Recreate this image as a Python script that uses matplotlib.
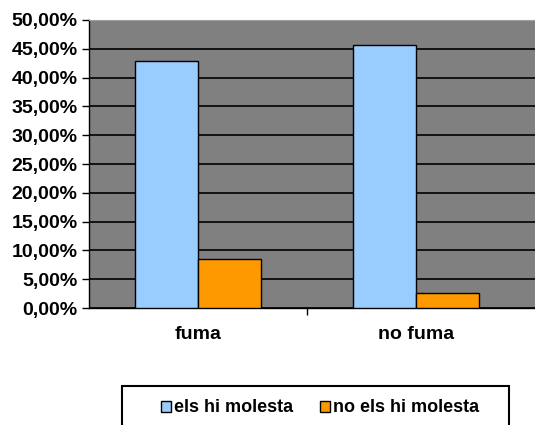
import matplotlib.pyplot as plt
import numpy as np
from matplotlib.ticker import FuncFormatter
from matplotlib.patches import Rectangle

# Datos
categorias = ['fuma', 'no fuma']
molesta = [42.8, 45.6]
no_molesta = [8.6, 2.7]
series = ['els hi molesta', 'no els hi molesta']

plt.rcParams['font.family'] = ['Liberation Sans', 'DejaVu Sans']
plt.rcParams['font.weight'] = 'bold'

fig = plt.figure(figsize=(5.35, 4.25), dpi=100)
ax = fig.add_axes([0.166, 0.275, 0.834, 0.678])
ax.set_facecolor('#808080')

x = np.arange(len(categorias))
w = 0.29
ax.bar(x - w / 2, molesta, w, color='#99CCFF', edgecolor='black', linewidth=1.0, label=series[0], zorder=3)
ax.bar(x + w / 2, no_molesta, w, color='#FF9900', edgecolor='black', linewidth=1.0, label=series[1], zorder=3)

ax.set_ylim(0, 50)
ax.set_xlim(-0.5, 1.545)
ax.set_yticks(np.arange(0, 51, 5))
ax.yaxis.set_major_formatter(FuncFormatter(lambda v, p: f'{v:.2f}'.replace('.', ',') + '%'))
ax.grid(axis='y', color='black', linewidth=1.2, zorder=1)

ax.set_xticks(x)
ax.set_xticklabels(categorias)
ax.set_xticks([0.5], minor=True)
ax.tick_params(axis='x', which='major', length=0, pad=13, labelsize=14)
ax.tick_params(axis='x', which='minor', length=5, width=1, direction='out')
ax.tick_params(axis='y', length=5, width=1, direction='out', labelsize=14, pad=3)

for s in ['top', 'right']:
    ax.spines[s].set_color('#a0a0a0')
for s in ['left', 'bottom']:
    ax.spines[s].set_color('black')
    ax.spines[s].set_linewidth(1.0)

# caja de la leyenda
fig.patches.append(Rectangle((122 / 535, -0.05), (509 - 122) / 535, 0.05 + (425 - 386) / 425,
                             transform=fig.transFigure, facecolor='white',
                             edgecolor='black', linewidth=1.5))
leg = fig.legend(loc='center', bbox_to_anchor=(320 / 535, 1 - 408 / 425), ncol=2,
                 frameon=False, fontsize=13, handlelength=0.55, handleheight=0.55,
                 handletextpad=0.15, columnspacing=1.5)

fig.savefig('out.png', dpi=100)
